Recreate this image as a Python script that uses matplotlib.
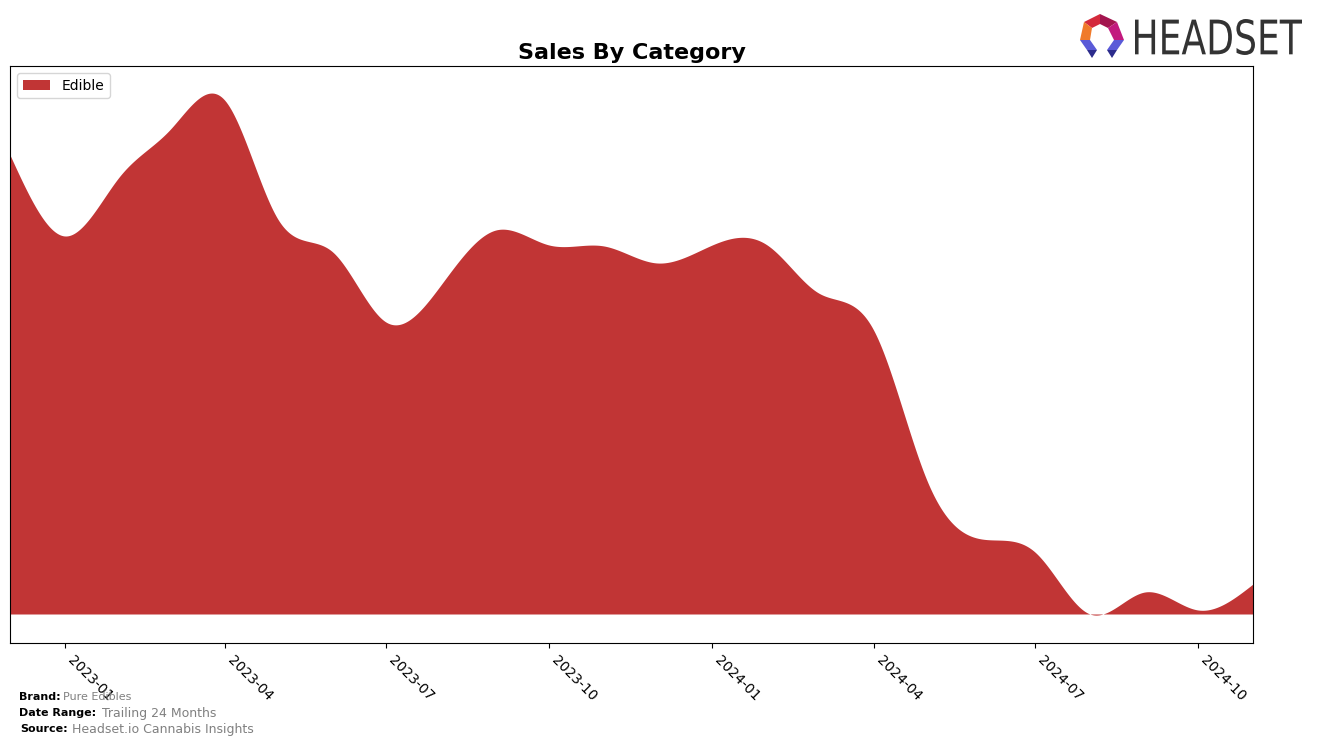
"""Sales by category chart for Pure Edibles (trailing 24 months)."""
import numpy as np
import pandas as pd
import matplotlib
matplotlib.use("Agg")
import matplotlib.pyplot as plt
import matplotlib.dates as mdates
from matplotlib.patches import Polygon, PathPatch
from matplotlib.textpath import TextPath
from matplotlib.font_manager import FontProperties
from matplotlib.transforms import Affine2D

# monthly sales (arbitrary units)
months = pd.date_range("2022-12-01", "2024-11-01", freq="MS")
edible = [459, 378, 438, 484, 514, 395, 362, 292, 329, 384, 369, 368,
          351, 369, 369, 321, 284, 134, 75, 62, 0, 22, 4, 30]
category = "Edible"
tick_dates = pd.date_range("2023-01-01", "2024-10-01", freq="3MS")
brand = "Pure Edibles"
date_range = "Trailing 24 Months"
source = "Headset.io Cannabis Insights"


def natural_spline(x, y, xs):
    # plain natural cubic spline, just for the smooth look of the area
    x = np.asarray(x, float)
    y = np.asarray(y, float)
    n = len(x)
    h = np.diff(x)
    A = np.zeros((n, n))
    b = np.zeros(n)
    A[0, 0] = A[-1, -1] = 1
    for i in range(1, n - 1):
        A[i, i - 1] = h[i - 1]
        A[i, i] = 2 * (h[i - 1] + h[i])
        A[i, i + 1] = h[i]
        b[i] = 3 * ((y[i + 1] - y[i]) / h[i] - (y[i] - y[i - 1]) / h[i - 1])
    c = np.linalg.solve(A, b)
    idx = np.clip(np.searchsorted(x, xs) - 1, 0, n - 2)
    dx = xs - x[idx]
    bb = (y[idx + 1] - y[idx]) / h[idx] - h[idx] * (2 * c[idx] + c[idx + 1]) / 3
    dd = (c[idx + 1] - c[idx]) / (3 * h[idx])
    return y[idx] + bb * dx + c[idx] * dx ** 2 + dd * dx ** 3


xnum = mdates.date2num(months)
xs = np.linspace(xnum[0], xnum[-1], 800)
ys = natural_spline(xnum, edible, xs)

fig = plt.figure(figsize=(13.17, 7.45), dpi=100)
ax = fig.add_axes([10 / 1317, 1 - 643 / 745, 1243 / 1317, 577 / 745])
ax.fill_between(xs, 0, ys, color="#c13535", linewidth=0, label=category)
ax.set_xlim(xnum[0], xnum[-1])
ax.set_ylim(-29, 548)
ax.set_yticks([])
ax.set_xticks(mdates.date2num(tick_dates))
ax.set_xticklabels([d.strftime("%Y-%m") for d in tick_dates],
                   rotation=-45, ha="left", fontsize=10)
ax.legend(loc="upper left", fontsize=10)
ax.set_title("Sales By Category", fontsize=16, fontweight="bold", pad=5)

# footer
fig.text(19 / 1317, 1 - 697 / 745, "Brand:", fontsize=8, fontweight="bold", va="center")
fig.text(63 / 1317, 1 - 697 / 745, brand, fontsize=8, color="gray", va="center")
fig.text(19 / 1317, 1 - 713 / 745, "Date Range:", fontsize=8, fontweight="bold", va="center")
fig.text(102 / 1317, 1 - 713 / 745, date_range, fontsize=9, color="gray", va="center")
fig.text(20 / 1317, 1 - 729 / 745, "Source:", fontsize=8, fontweight="bold", va="center")
fig.text(72 / 1317, 1 - 729 / 745, source, fontsize=9, color="gray", va="center")

# logo
def px(points):
    return [(x / 1317, 1 - y / 745) for x, y in points]

logo = [
    ([(1084, 22), (1100, 14), (1100, 24), (1092, 28)], "#d42a3c"),
    ([(1100, 14), (1117, 22), (1108, 28), (1100, 24)], "#a3154f"),
    ([(1084, 22), (1092, 28), (1090, 40), (1080, 40)], "#f07a2a"),
    ([(1117, 22), (1124, 40), (1114, 40), (1108, 28)], "#c2197e"),
    ([(1080, 40), (1090, 40), (1097, 50), (1087, 50)], "#5a5ad8"),
    ([(1087, 50), (1097, 50), (1092, 58)], "#2c2c8c"),
    ([(1124, 40), (1114, 40), (1107, 50), (1117, 50)], "#5a5ad8"),
    ([(1107, 50), (1117, 50), (1112, 58)], "#2c2c8c"),
]
for pts, col in logo:
    fig.patches.append(Polygon(px(pts), closed=True, facecolor=col,
                               edgecolor="none", transform=fig.transFigure))

# squeeze the wordmark into its box (pixels 1135..1302 wide, 19..55 tall)
tp = TextPath((0, 0), "HEADSET", size=50, prop=FontProperties(family="DejaVu Sans"))
ext = tp.get_extents()
sx = 167 / ext.width
sy = 36 / ext.height
word_tf = (Affine2D().translate(-ext.x0, -ext.y0).scale(sx, sy)
           .translate(1135, 745 - 55))
fig.patches.append(PathPatch(tp, facecolor="#333333", edgecolor="none",
                             transform=word_tf))

fig.savefig("out.png", dpi=100)
